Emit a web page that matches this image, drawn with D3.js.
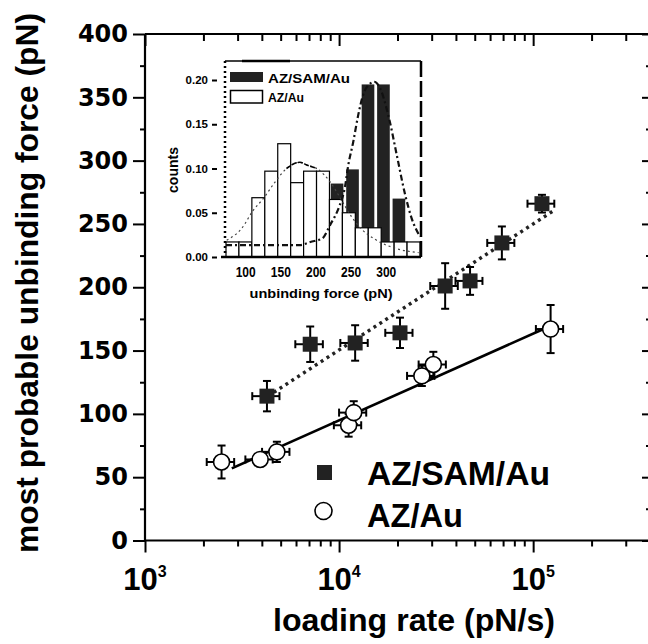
<!DOCTYPE html>
<html><head><meta charset="utf-8">
<script src="https://cdn.jsdelivr.net/npm/d3@7"></script>
<style>
html,body{margin:0;padding:0;background:#fff;}
svg{display:block;}
text{font-family:"Liberation Sans",Arial,sans-serif;font-weight:bold;fill:#000;}
</style></head><body>
<svg id="chart" width="648" height="644"></svg>
<script>
// ---------- main plot data ----------
const samRate      = [4250, 7100, 12100, 20600, 35200, 47300, 69000, 111000];
const samForce     = [114, 155, 156, 164, 201, 205, 235, 266];
const samForceErr  = [12, 14, 14, 12, 18, 11, 13, 7];
const samRateErr   = [680, 1150, 1950, 3300, 5700, 7500, 11000, 17500];
const auRate       = [2480, 3920, 4780, 11200, 11900, 26700, 30600, 123000];
const auForce      = [62, 64, 70, 91, 101, 130, 139, 167];
const auForceErr   = [13, 5, 8, 9, 9, 8, 10, 19];
const auRateErr    = [400, 630, 770, 1800, 1900, 4300, 4900, 19700];
const samFitRate   = [4300, 129000];
const samFitForce  = [114, 261];
const auFitRate    = [2800, 125000];
const auFitForce   = [57, 170];
const yTickValues  = [0, 50, 100, 150, 200, 250, 300, 350, 400];
const xTickExponents = [3, 4, 5];
const seriesNames  = ["AZ/SAM/Au", "AZ/Au"];
const xTitle = "loading rate (pN/s)";
const yTitle = "most probable unbinding force (pN)";

// ---------- inset data ----------
const auBinLeft   = [72, 90.4, 108.8, 127.2, 145.6, 164, 182.4, 200.8, 219.2, 237.6, 256, 274.4, 292.8, 311.2, 329.6];
const auBinWidth  = 18.4;
const auCounts    = [0.017, 0.017, 0.067, 0.097, 0.128, 0.084, 0.097, 0.097, 0.065, 0.050, 0.033, 0.033, 0.017, 0.017, 0.017];
const samBinCenter = [230, 252, 274, 296, 318];
const samBinWidth  = 18;
const samCounts    = [0.083, 0.099, 0.195, 0.195, 0.066];
const samCurveForce = [72, 177, 192, 209, 220, 234, 241, 246, 253, 260, 267, 277, 283, 289, 305, 315, 327, 336, 348];
const samCurveCount = [0.0135, 0.0135, 0.017, 0.021, 0.036, 0.059, 0.078, 0.104, 0.130, 0.160, 0.183, 0.196, 0.198, 0.194, 0.153, 0.115, 0.070, 0.044, 0.023];
const auCurveForce = [73, 94, 111, 125, 142, 158, 177, 187, 201, 220, 238, 251, 263, 284, 312, 346];
const auCurveCount = [0.019, 0.032, 0.053, 0.066, 0.085, 0.100, 0.107, 0.104, 0.100, 0.085, 0.062, 0.045, 0.033, 0.020, 0.010, 0.005];
const insetXTicks = [100, 150, 200, 250, 300];
const insetYTicks = [0, 0.05, 0.10, 0.15, 0.20];
const insetXTitle = "unbinding force (pN)";
const insetYTitle = "counts";

// ---------- layout ----------
const svg = d3.select("#chart");
const x = d3.scaleLog().domain([1e3, 4e5]).range([145, 650]);
const y = d3.scaleLinear().domain([0, 400]).range([540.5, 34]);
const [L, R] = x.range();
const [B, T] = y.range();

const majorX = xTickExponents.map(e => Math.pow(10, e));
const minorX = [];
majorX.forEach(d => { for (let k = 2; k <= 9; k++) if (k * d <= 4e5) minorX.push(k * d); });
const minorY = d3.range(25, 400, 50);

function styleAxis(g) {
  g.selectAll("path.domain").remove();
  g.selectAll(".tick line").attr("stroke", "#000").attr("stroke-width", 2);
}

svg.append("g").attr("transform", `translate(${L},0)`)
  .call(d3.axisLeft(y).tickValues(yTickValues).tickSize(12).tickPadding(5).tickFormat(d3.format("d")))
  .call(styleAxis)
  .call(g => g.selectAll("text").style("font-family", "'DejaVu Sans',sans-serif").style("font-weight", "bold").style("font-size", "24px").attr("fill", "#000"));
svg.append("g").attr("transform", `translate(${L},0)`)
  .call(d3.axisLeft(y).tickValues(minorY).tickSize(5).tickFormat(""))
  .call(styleAxis);
svg.append("g").attr("transform", `translate(${R},0)`)
  .call(d3.axisLeft(y).tickValues(yTickValues).tickSize(8).tickFormat(""))
  .call(styleAxis);
svg.append("g").attr("transform", `translate(${R},0)`)
  .call(d3.axisLeft(y).tickValues(minorY).tickSize(4).tickFormat(""))
  .call(styleAxis);
svg.append("g").attr("transform", `translate(0,${B})`)
  .call(d3.axisBottom(x).tickValues(majorX).tickSize(12).tickFormat(""))
  .call(styleAxis);
svg.append("g").attr("transform", `translate(0,${B})`)
  .call(d3.axisBottom(x).tickValues(minorX).tickSize(6).tickFormat(""))
  .call(styleAxis);
svg.append("g").attr("transform", `translate(0,${T})`)
  .call(d3.axisBottom(x).tickValues(majorX).tickSize(12).tickFormat(""))
  .call(styleAxis);
svg.append("g").attr("transform", `translate(0,${T})`)
  .call(d3.axisBottom(x).tickValues(minorX).tickSize(7).tickFormat(""))
  .call(styleAxis);

svg.append("line").attr("x1", L).attr("x2", L).attr("y1", T).attr("y2", B).attr("stroke", "#000").attr("stroke-width", 2.2);
svg.append("line").attr("x1", L).attr("x2", R).attr("y1", B).attr("y2", B).attr("stroke", "#000").attr("stroke-width", 2.2);
svg.append("line").attr("x1", L).attr("x2", R).attr("y1", T).attr("y2", T).attr("stroke", "#000").attr("stroke-width", 2.2);
svg.append("line").attr("x1", R).attr("x2", R).attr("y1", T).attr("y2", B).attr("stroke", "#000").attr("stroke-width", 2.2);

const xl = svg.append("g").selectAll("text").data(xTickExponents).join("text")
  .attr("x", d => x(Math.pow(10, d))).attr("y", 590)
  .attr("text-anchor", "middle").style("font-size", "31px");
xl.append("tspan").text("10");
xl.append("tspan").attr("dy", -13).style("font-size", "16px").text(d => d);

svg.append("text").attr("x", 414).attr("y", 631).attr("text-anchor", "middle")
  .style("font-size", "31px").attr("textLength", 282).attr("lengthAdjust", "spacingAndGlyphs").text(xTitle);
svg.append("text").attr("transform", "translate(38,283) rotate(-90)").attr("text-anchor", "middle")
  .style("font-size", "31px").attr("textLength", 540).attr("lengthAdjust", "spacingAndGlyphs").text(yTitle);

const line = d3.line().x(d => x(d[0])).y(d => y(d[1]));
svg.append("path").datum(samFitRate.map((r, i) => [r, samFitForce[i]]))
  .attr("d", line).attr("fill", "none").attr("stroke", "#222").attr("stroke-width", 3.4).attr("stroke-dasharray", "3,4");
svg.append("path").datum(auFitRate.map((r, i) => [r, auFitForce[i]]))
  .attr("d", line).attr("fill", "none").attr("stroke", "#000").attr("stroke-width", 2.6);

function errorBars(rates, forces, rErr, fErr) {
  const g = svg.append("g").attr("stroke", "#000").attr("stroke-width", 2);
  rates.forEach((r, i) => {
    const cx = x(r), cy = y(forces[i]);
    const y1 = y(forces[i] + fErr[i]), y2 = y(forces[i] - fErr[i]);
    const x1 = x(r - rErr[i]), x2 = x(r + rErr[i]);
    g.append("line").attr("x1", cx).attr("x2", cx).attr("y1", y1).attr("y2", y2);
    g.append("line").attr("x1", cx - 4).attr("x2", cx + 4).attr("y1", y1).attr("y2", y1);
    g.append("line").attr("x1", cx - 4).attr("x2", cx + 4).attr("y1", y2).attr("y2", y2);
    g.append("line").attr("x1", x1).attr("x2", x2).attr("y1", cy).attr("y2", cy);
    g.append("line").attr("x1", x1).attr("x2", x1).attr("y1", cy - 4).attr("y2", cy + 4);
    g.append("line").attr("x1", x2).attr("x2", x2).attr("y1", cy - 4).attr("y2", cy + 4);
  });
}
errorBars(samRate, samForce, samRateErr, samForceErr);
errorBars(auRate, auForce, auRateErr, auForceErr);

svg.append("g").selectAll("rect").data(samRate).join("rect")
  .attr("x", (d) => x(d) - 7.5).attr("y", (d, i) => y(samForce[i]) - 7.5)
  .attr("width", 15).attr("height", 15).attr("fill", "#222");
svg.append("g").selectAll("circle").data(auRate).join("circle")
  .attr("cx", d => x(d)).attr("cy", (d, i) => y(auForce[i])).attr("r", 8)
  .attr("fill", "#fff").attr("stroke", "#000").attr("stroke-width", 1.6);

svg.append("rect").attr("x", 317).attr("y", 465).attr("width", 15).attr("height", 15).attr("fill", "#222");
svg.append("circle").attr("cx", 323.5).attr("cy", 511).attr("r", 8.5).attr("fill", "#fff").attr("stroke", "#000").attr("stroke-width", 1.6);
svg.append("text").attr("x", 367).attr("y", 485).style("font-size", "33px")
  .attr("textLength", 183).attr("lengthAdjust", "spacingAndGlyphs").text(seriesNames[0]);
svg.append("text").attr("x", 367).attr("y", 527).style("font-size", "33px")
  .attr("textLength", 96).attr("lengthAdjust", "spacingAndGlyphs").text(seriesNames[1]);

// ---------- inset ----------
const xi = d3.scaleLinear().domain([72, 348]).range([226, 420]);
const yi = d3.scaleLinear().domain([0, 0.2]).range([257, 80]);
const inset = svg.append("g");
inset.append("rect").attr("x", 225).attr("y", 61).attr("width", 196).attr("height", 196).attr("fill", "#fff");

inset.append("g").selectAll("rect").data(samBinCenter).join("rect")
  .attr("x", d => xi(d - samBinWidth / 2)).attr("width", d => xi(d + samBinWidth / 2) - xi(d - samBinWidth / 2))
  .attr("y", (d, i) => yi(samCounts[i])).attr("height", (d, i) => yi(0) - yi(samCounts[i]))
  .attr("fill", "#222");
inset.append("g").selectAll("rect").data(auBinLeft).join("rect")
  .attr("x", d => xi(d)).attr("width", d => xi(d + auBinWidth) - xi(d))
  .attr("y", (d, i) => yi(auCounts[i])).attr("height", (d, i) => yi(0) - yi(auCounts[i]))
  .attr("fill", "#fff").attr("stroke", "#000").attr("stroke-width", 1.2);

const cl = d3.line().x(d => xi(d[0])).y(d => yi(d[1])).curve(d3.curveMonotoneX);
const auCurve = auCurveForce.map((f, i) => [f, auCurveCount[i]]);
inset.append("path").datum(auCurve)
  .attr("d", cl).attr("fill", "none").attr("stroke", "#444").attr("stroke-width", 1.2).attr("stroke-dasharray", "2,3");
inset.append("path").datum(auCurve.filter(d => d[0] >= 158 && d[0] <= 201))
  .attr("d", cl).attr("fill", "none").attr("stroke", "#000").attr("stroke-width", 1.6).attr("stroke-dasharray", "5,1.5");
inset.append("path").datum(samCurveForce.map((f, i) => [f, samCurveCount[i]]))
  .attr("d", cl).attr("fill", "none").attr("stroke", "#111").attr("stroke-width", 2.2).attr("stroke-dasharray", "6,3,2,3");

inset.append("line").attr("x1", 225).attr("x2", 421).attr("y1", 61).attr("y2", 61).attr("stroke", "#000").attr("stroke-width", 1.5);
inset.append("line").attr("x1", 242).attr("x2", 290).attr("y1", 61).attr("y2", 61).attr("stroke", "#000").attr("stroke-width", 2.5);
inset.append("line").attr("x1", 225).attr("x2", 225).attr("y1", 61).attr("y2", 257).attr("stroke", "#000").attr("stroke-width", 2.5).attr("stroke-dasharray", "2,3");
inset.append("line").attr("x1", 421).attr("x2", 421).attr("y1", 61).attr("y2", 257).attr("stroke", "#000").attr("stroke-width", 2.5).attr("stroke-dasharray", "16,4");
inset.append("line").attr("x1", 221).attr("x2", 421).attr("y1", 257).attr("y2", 257).attr("stroke", "#000").attr("stroke-width", 2.5);

inset.append("g").attr("transform", "translate(225,0)")
  .call(d3.axisLeft(yi).tickValues(insetYTicks).tickSize(13).tickPadding(4).tickFormat(d3.format(".2f")))
  .call(g => g.selectAll("path.domain").remove())
  .call(g => g.selectAll(".tick line").attr("stroke", "#000").attr("stroke-width", 2).attr("stroke-dasharray", "0,8,5,50"))
  .call(g => g.selectAll("text").style("font-family", "'Liberation Sans',Arial,sans-serif").style("font-weight", "bold").style("font-size", "11.5px").attr("fill", "#000"));

inset.append("g").selectAll("text").data(insetXTicks).join("text")
  .attr("x", d => xi(d)).attr("y", 277).attr("text-anchor", "middle")
  .style("font-size", "15px").attr("textLength", 20).attr("lengthAdjust", "spacingAndGlyphs").text(d => d);
inset.append("text").attr("x", 321).attr("y", 298).attr("text-anchor", "middle")
  .style("font-size", "13px").attr("fill", "#111").attr("textLength", 143).attr("lengthAdjust", "spacingAndGlyphs").text(insetXTitle);
inset.append("text").attr("transform", "translate(178,170) rotate(-90)").attr("text-anchor", "middle")
  .style("font-size", "14px").attr("textLength", 46).attr("lengthAdjust", "spacingAndGlyphs").text(insetYTitle);

inset.append("rect").attr("x", 230).attr("y", 72).attr("width", 33).attr("height", 10).attr("fill", "#222");
inset.append("rect").attr("x", 230.5).attr("y", 90.5).attr("width", 32).attr("height", 12.5).attr("fill", "#fff").attr("stroke", "#000").attr("stroke-width", 1.5);
inset.append("text").attr("x", 268).attr("y", 83).style("font-size", "13px")
  .attr("textLength", 82).attr("lengthAdjust", "spacingAndGlyphs").text(seriesNames[0]);
inset.append("text").attr("x", 268).attr("y", 102).style("font-size", "13px")
  .attr("textLength", 36).attr("lengthAdjust", "spacingAndGlyphs").text(seriesNames[1]);
</script>
</body></html>
